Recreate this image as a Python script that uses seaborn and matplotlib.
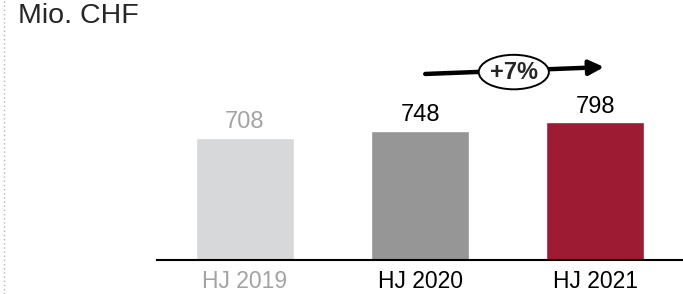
import matplotlib
matplotlib.use("Agg")
import matplotlib.pyplot as plt
import seaborn as sns
import pandas as pd
from matplotlib.patches import Ellipse
from matplotlib.lines import Line2D

# Daten
categories = ["HJ 2019", "HJ 2020", "HJ 2021"]
values = [708, 748, 798]
bar_colors = ["#d7d8da", "#969696", "#9e1b34"]
label_colors = ["#a3a3a3", "#000000", "#000000"]
growth_label = "+7%"
unit_label = "Mio. CHF"

sns.set_style("white")
plt.rcParams["font.family"] = ["Liberation Sans", "DejaVu Sans"]

df = pd.DataFrame({"period": categories, "value": values})

fig = plt.figure(figsize=(6.83, 2.94), dpi=100)
ax = fig.add_axes([157 / 683, 34 / 294, 526 / 683, 220 / 294])

sns.barplot(data=df, x="period", y="value", hue="period", palette=bar_colors,
            width=0.56, legend=False, ax=ax, saturation=1)

ax.set_xlim(-0.5, 2.5)
ax.set_ylim(0, 1276)
ax.set_xlabel("")
ax.set_ylabel("")
ax.set_yticks([])
for s in ["top", "right", "left"]:
    ax.spines[s].set_visible(False)
ax.spines["bottom"].set_color("black")
ax.spines["bottom"].set_linewidth(1.5)
ax.tick_params(axis="x", length=0, pad=7, labelsize=16.5)
for lab, c in zip(ax.get_xticklabels(), label_colors):
    lab.set_color(c)

# Wertebeschriftungen
for i, (v, c) in enumerate(zip(values, label_colors)):
    ax.annotate(str(v), (i, v), xytext=(0, 3.5), textcoords="offset points",
                ha="center", va="bottom", fontsize=17, color=c)

# Wachstumspfeil
ax.annotate("", xy=(2.05, 1119), xytext=(1.03, 1079),
            arrowprops=dict(arrowstyle="-|>", lw=3.2, color="black",
                            mutation_scale=22, shrinkA=0, shrinkB=0),
            annotation_clip=False)
ell = Ellipse((1.535, 1090), width=0.40, height=200, facecolor="white",
              edgecolor="black", lw=1.4, zorder=5, clip_on=False)
ax.add_patch(ell)
ax.text(1.535, 1090, growth_label, ha="center", va="center", fontsize=17,
        fontweight="bold", zorder=6)

fig.text(18 / 683, 1 - 3 / 294, unit_label, ha="left", va="top", fontsize=20.5)

fig.add_artist(Line2D([4 / 683, 4 / 683], [0, 1], transform=fig.transFigure,
                      linestyle=(0, (1, 2)), color="#b5b5b5", lw=1))

fig.savefig("out.png", dpi=100)
